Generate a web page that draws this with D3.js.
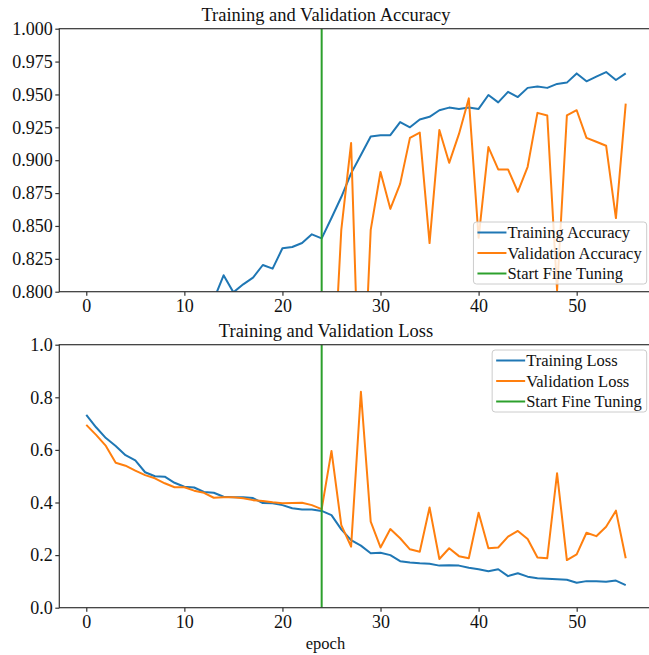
<!DOCTYPE html>
<html>
<head>
<meta charset='utf-8'>
<script src='https://d3js.org/d3.v7.min.js'></script>
<style>
    body { margin: 0; background: #fff; }
    svg { font-family: "Liberation Serif", "Times New Roman", serif; }
    .axis path, .axis line { stroke: #333; stroke-width: 1.2; }
    .axis text { font-size: 18px; fill: #111; }
    .legend text { font-size: 16.5px; fill: #111; }
</style>
</head>
<body>
<svg id='chart' width='649' height='655'></svg>
<script>

    // epochs 0..55
    const epochs = d3.range(56);
    const fineTuneAt = 24;

    const trainAcc = [0.62, 0.66, 0.69, 0.71, 0.73, 0.745, 0.755, 0.765, 0.77, 0.775,
        0.78, 0.785, 0.79, 0.794, 0.8125, 0.7995, 0.8056, 0.8107, 0.8203, 0.8175,
        0.833, 0.834, 0.837, 0.8436, 0.8406, 0.856, 0.872, 0.890, 0.904, 0.918,
        0.919, 0.919, 0.929, 0.925, 0.931, 0.933, 0.938, 0.940, 0.939, 0.940,
        0.939, 0.9496, 0.944, 0.952, 0.948, 0.955, 0.956, 0.955, 0.958, 0.959,
        0.966, 0.960, 0.9635, 0.967, 0.961, 0.966];
    const valAcc = [0.60, 0.64, 0.67, 0.70, 0.71, 0.72, 0.73, 0.74, 0.75, 0.755,
        0.76, 0.765, 0.77, 0.775, 0.775, 0.778, 0.78, 0.782, 0.784, 0.786,
        0.788, 0.788, 0.789, 0.79, 0.792, 0.705, 0.847, 0.913, 0.678, 0.847,
        0.891, 0.863, 0.882, 0.917, 0.921, 0.837, 0.923, 0.898, 0.920, 0.947,
        0.841, 0.910, 0.893, 0.893, 0.876, 0.895, 0.936, 0.934, 0.801, 0.934,
        0.938, 0.917, 0.914, 0.911, 0.856, 0.943];
    const trainLoss = [0.733, 0.686, 0.645, 0.615, 0.58, 0.56, 0.515, 0.50, 0.498, 0.475,
        0.46, 0.457, 0.44, 0.437, 0.422, 0.42, 0.42, 0.417, 0.398, 0.397,
        0.39, 0.378, 0.373, 0.373, 0.368, 0.352, 0.298, 0.257, 0.236, 0.207,
        0.209, 0.2, 0.177, 0.172, 0.169, 0.167, 0.160, 0.161, 0.160, 0.152,
        0.146, 0.139, 0.146, 0.12, 0.131, 0.118, 0.112, 0.110, 0.108, 0.106,
        0.095, 0.101, 0.101, 0.099, 0.103, 0.086];
    const valLoss = [0.695, 0.657, 0.615, 0.551, 0.54, 0.521, 0.504, 0.492, 0.473, 0.458,
        0.458, 0.445, 0.437, 0.418, 0.42, 0.42, 0.416, 0.409, 0.406, 0.401,
        0.397, 0.398, 0.399, 0.39, 0.375, 0.596, 0.314, 0.232, 0.821, 0.327,
        0.229, 0.299, 0.264, 0.222, 0.213, 0.381, 0.185, 0.226, 0.196, 0.188,
        0.361, 0.226, 0.229, 0.270, 0.292, 0.261, 0.191, 0.188, 0.511, 0.181,
        0.203, 0.285, 0.272, 0.308, 0.369, 0.188];

    const xTicks = [0, 10, 20, 30, 40, 50];
    const accTicks = [0.800, 0.825, 0.850, 0.875, 0.900, 0.925, 0.950, 0.975, 1.000];
    const lossTicks = [0.0, 0.2, 0.4, 0.6, 0.8, 1.0];

    const colors = { train: '#1f77b4', val: '#ff7f0e', fine: '#2ca02c' };
    const serif = '"Liberation Serif", "Times New Roman", serif';

    const svg = d3.select('#chart');
    const left = 59.3, right = 652.7;

    const x = d3.scaleLinear().domain([-2.75, 57.75]).range([left, right]);

    const panels = [
        { id: 'acc', top: 28.7, bottom: 291.7, domain: [0.8, 1.0], ticks: accTicks, fmt: d3.format('.3f'),
          title: 'Training and Validation Accuracy', train: trainAcc, val: valAcc,
          names: ['Training Accuracy', 'Validation Accuracy', 'Start Fine Tuning'],
          legendTop: 222 },
        { id: 'loss', top: 344.7, bottom: 607.7, domain: [0, 1.0], ticks: lossTicks, fmt: d3.format('.1f'),
          title: 'Training and Validation Loss', train: trainLoss, val: valLoss,
          names: ['Training Loss', 'Validation Loss', 'Start Fine Tuning'],
          legendTop: 350 }
    ];

    panels.forEach(function(p) {
        const y = d3.scaleLinear().domain(p.domain).range([p.bottom, p.top]);
        const g = svg.append('g');

        g.append('clipPath').attr('id', 'clip-' + p.id)
            .append('rect')
            .attr('x', left).attr('y', p.top)
            .attr('width', right - left).attr('height', p.bottom - p.top);

        const plot = g.append('g').attr('clip-path', 'url(#clip-' + p.id + ')');

        const line = d3.line()
            .x(function(d, i) { return x(epochs[i]); })
            .y(function(d) { return y(d); });

        plot.append('path').datum(p.train)
            .attr('fill', 'none').attr('stroke', colors.train)
            .attr('stroke-width', 2).attr('stroke-linejoin', 'round')
            .attr('d', line);
        plot.append('path').datum(p.val)
            .attr('fill', 'none').attr('stroke', colors.val)
            .attr('stroke-width', 2).attr('stroke-linejoin', 'round')
            .attr('d', line);
        plot.append('line')
            .attr('x1', x(fineTuneAt)).attr('x2', x(fineTuneAt))
            .attr('y1', y(p.domain[0])).attr('y2', y(p.domain[1]))
            .attr('stroke', colors.fine).attr('stroke-width', 2);

        // frame
        g.append('rect')
            .attr('x', left).attr('y', p.top)
            .attr('width', right - left).attr('height', p.bottom - p.top)
            .attr('fill', 'none').attr('stroke', '#333').attr('stroke-width', 1.2);

        g.append('g').attr('class', 'axis')
            .attr('transform', 'translate(0,' + p.bottom + ')')
            .call(d3.axisBottom(x).tickValues(xTicks).tickSize(4).tickSizeOuter(0).tickPadding(3.5))
            .call(function(a) { a.select('.domain').remove(); })
            .attr('font-family', serif);

        g.append('g').attr('class', 'axis')
            .attr('transform', 'translate(' + left + ',0)')
            .call(d3.axisLeft(y).tickValues(p.ticks).tickFormat(p.fmt).tickSize(4).tickSizeOuter(0).tickPadding(2.6))
            .call(function(a) { a.select('.domain').remove(); })
            .attr('font-family', serif);

        g.append('text')
            .attr('x', 326).attr('y', p.top - 8)
            .attr('text-anchor', 'middle')
            .style('font-size', '18.5px').style('fill', '#111')
            .text(p.title);

        // legend
        const leg = g.append('g').attr('class', 'legend');
        const box = leg.append('rect')
            .attr('y', p.legendTop).attr('height', 62).attr('rx', 3)
            .attr('fill', '#fff').attr('fill-opacity', 0.8)
            .attr('stroke', '#ccc').attr('stroke-width', 1);
        const legColors = [colors.train, colors.val, colors.fine];
        const rows = leg.selectAll('g.row').data(p.names).enter().append('g').attr('class', 'row');
        const texts = rows.append('text').text(function(d) { return d; });
        let maxW = 0;
        texts.each(function() { maxW = Math.max(maxW, this.getComputedTextLength()); });
        const bx = 646.7 - (34 + maxW + 5);
        box.attr('x', bx).attr('width', 646.7 - bx);
        rows.each(function(d, i) {
            const ry = p.legendTop + 10.5 + i * 20.5;
            const r = d3.select(this);
            r.insert('line', 'text')
                .attr('x1', bx + 4).attr('x2', bx + 33)
                .attr('y1', ry).attr('y2', ry)
                .attr('stroke', legColors[i]).attr('stroke-width', 2);
            r.select('text').attr('x', bx + 34).attr('y', ry + 5.5);
        });
    });

    svg.append('text')
        .attr('x', 325.5).attr('y', 649)
        .attr('text-anchor', 'middle')
        .style('font-size', '16.5px').style('fill', '#111')
        .text('epoch');

</script>
</body>
</html>
